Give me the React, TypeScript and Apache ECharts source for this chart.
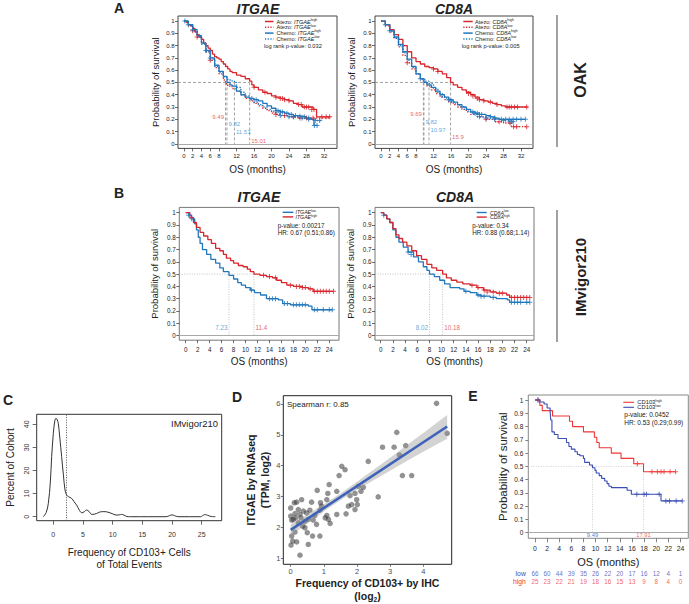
import React, { useEffect, useRef } from "react";
import * as echarts from "echarts";

const FONT = "'Liberation Sans', Arial, Helvetica, sans-serif";

// ---------------- shared ticks ----------------
const kmYTicks = [0, 0.1, 0.2, 0.3, 0.4, 0.5, 0.6, 0.7, 0.8, 0.9, 1];
const oakMonthTicks = [0, 2, 4, 6, 8, 12, 16, 20, 24, 28, 32];
const imMonthTicks = [0, 2, 4, 6, 8, 10, 12, 14, 16, 18, 20, 22, 24];

// ---------------- Panel A: OAK, ITGAE ----------------
const aItgaeAtezoHigh = [[0,1],[0.5,0.99],[1,0.97],[1.5,0.96],[2,0.94],[2.5,0.91],[3,0.89],[3.5,0.87],[4,0.85],[4.5,0.82],[5,0.8],[5.5,0.78],[6,0.76],[6.5,0.73],[7,0.71],[7.5,0.7],[8,0.69],[8.5,0.67],[9,0.65],[9.5,0.63],[10,0.61],[10.5,0.59],[11,0.58],[12,0.56],[13,0.55],[14,0.53],[15,0.51],[15.5,0.48],[16,0.46],[17,0.44],[18,0.42],[19,0.41],[20,0.39],[21,0.38],[22,0.37],[23,0.36],[24,0.35],[25,0.33],[26,0.32],[27,0.3],[28,0.3],[29.5,0.28],[30.3,0.22],[33.5,0.22]];
const aItgaeAtezoLow = [[0,1],[1,0.96],[2,0.92],[3,0.87],[4,0.82],[5,0.75],[6,0.68],[7,0.62],[8,0.57],[9,0.52],[9.49,0.49],[10,0.47],[11,0.45],[12,0.43],[13,0.4],[14,0.37],[15,0.35],[16,0.33],[17,0.31],[18,0.29],[19,0.27],[20,0.25],[21,0.24],[22,0.23],[24,0.22],[26,0.21],[30,0.21],[33.5,0.21]];
const aItgaeChemoHigh = [[0,1],[1,0.97],[2,0.93],[3,0.88],[4,0.82],[5,0.76],[6,0.7],[7,0.64],[8,0.59],[9,0.55],[9.82,0.5],[10.5,0.48],[11,0.47],[12,0.43],[13,0.4],[14,0.38],[15,0.37],[16,0.36],[17,0.35],[18,0.33],[19,0.31],[20,0.29],[21,0.27],[22,0.26],[23,0.25],[24,0.24],[25,0.23],[26,0.225],[27,0.22],[28,0.21],[29,0.2],[29.7,0.15],[30.6,0.15]];
const aItgaeChemoLow = [[0,1],[1,0.97],[2,0.92],[3,0.87],[4,0.81],[5,0.75],[6,0.69],[7,0.63],[8,0.58],[9,0.54],[10,0.52],[11,0.51],[11.53,0.5],[12,0.46],[13,0.42],[14,0.39],[15,0.36],[16,0.34],[17,0.32],[18,0.3],[19,0.28],[20,0.26],[21,0.24],[22,0.23],[24,0.22],[26,0.21],[28,0.2],[30,0.19],[31.5,0.19]];
const aItgaeAtezoHighCens = [[16,0.46],[18.5,0.42],[21,0.38],[22,0.37],[22.5,0.37],[23,0.36],[24,0.35],[26.2,0.32],[26.8,0.32],[27.5,0.3],[28,0.3],[28.5,0.3],[29.2,0.28],[29.7,0.28],[31.5,0.22],[32.5,0.22],[33.3,0.22]];
const aItgaeAtezoLowCens = [[2,0.92],[3,0.87],[6,0.68],[21,0.24],[23,0.23],[25,0.22],[26.5,0.21],[28,0.21],[29.5,0.21]];
const aItgaeChemoHighCens = [[0.2,1],[1,0.97],[2,0.93],[5,0.76],[6,0.7],[15.5,0.37],[16.5,0.36],[21,0.27],[21.5,0.27],[22,0.26],[22.5,0.26],[23.5,0.25],[24.5,0.24],[25.5,0.23],[26.5,0.225],[27.5,0.22],[28.5,0.21],[29.8,0.15],[30.4,0.15]];
const aItgaeChemoLowCens = [[22,0.23],[24,0.22],[25,0.22],[27,0.21],[28.5,0.2],[30,0.19],[31,0.19]];
const aItgaeMedians = [9.49, 9.82, 11.53, 15.01];
const aItgaeMedianLabelY = [0.216, 0.159, 0.094, 0.02];

// ---------------- Panel A: OAK, CD8A ----------------
const aCd8aAtezoHigh = [[0,1],[1,0.97],[2,0.93],[3,0.89],[4,0.85],[5,0.8],[6,0.75],[7,0.7],[8,0.67],[9,0.65],[10,0.63],[11,0.62],[12,0.61],[13,0.59],[14,0.57],[15,0.54],[15.9,0.5],[16.5,0.48],[17.5,0.46],[18.5,0.44],[19.5,0.42],[20.5,0.4],[21.5,0.38],[22.5,0.36],[23.5,0.35],[24.5,0.34],[25.5,0.33],[26.5,0.32],[27.5,0.31],[28.5,0.3],[33.5,0.3]];
const aCd8aAtezoLow = [[0,1],[1,0.96],[2,0.91],[3,0.86],[4,0.79],[5,0.72],[6,0.66],[7,0.61],[8,0.57],[9,0.53],[9.69,0.5],[10.5,0.47],[11.5,0.44],[12.5,0.41],[13.5,0.38],[14.5,0.36],[15.5,0.34],[16.5,0.32],[17.5,0.3],[18.5,0.28],[19.5,0.26],[20.5,0.24],[22,0.22],[24,0.2],[26,0.18],[28,0.17],[29.8,0.14],[33.5,0.14]];
const aCd8aChemoHigh = [[0,1],[1,0.97],[2,0.92],[3,0.87],[4,0.81],[5,0.75],[6,0.69],[7,0.63],[8,0.57],[9,0.53],[9.82,0.5],[10.5,0.48],[11.5,0.46],[12.5,0.43],[13.5,0.4],[14.5,0.38],[15.5,0.36],[16.5,0.34],[17.5,0.32],[18.5,0.3],[19.5,0.28],[20.5,0.26],[21.5,0.25],[22.5,0.24],[24,0.23],[25,0.22],[26,0.21],[27,0.2],[33,0.2]];
const aCd8aChemoLow = [[0,1],[1,0.97],[2,0.92],[3,0.86],[4,0.8],[5,0.74],[6,0.68],[7,0.62],[8,0.57],[9,0.53],[10,0.51],[10.97,0.49],[12,0.45],[13,0.41],[14,0.38],[15,0.36],[16,0.34],[17,0.32],[18,0.3],[19,0.28],[20,0.26],[21,0.24],[22,0.22],[24,0.21],[26,0.2],[28,0.19],[30,0.18],[30.5,0.18]];
const aCd8aAtezoHighCens = [[12,0.61],[13,0.59],[20,0.41],[21,0.39],[22,0.37],[22.5,0.36],[23.5,0.35],[25,0.34],[26.5,0.32],[28.8,0.3],[29.3,0.3],[29.8,0.3],[30.5,0.3],[31.2,0.3],[33.3,0.3]];
const aCd8aAtezoLowCens = [[6,0.66],[24,0.2],[27,0.18],[29.5,0.17],[30.3,0.14],[31,0.14],[33.3,0.14]];
const aCd8aChemoHighCens = [[9,0.53],[15.5,0.36],[16,0.35],[21,0.26],[21.5,0.25],[22,0.25],[22.5,0.24],[23,0.24],[25,0.22],[26,0.21],[27.5,0.2],[28.5,0.2],[29.3,0.2],[30.2,0.2],[31,0.2],[32,0.2],[33,0.2]];
const aCd8aChemoLowCens = [[1,0.97],[2,0.92],[22.5,0.22],[24,0.21],[26,0.2],[28,0.19],[29.5,0.18],[30.2,0.18]];
const aCd8aMedians = [9.69, 9.82, 10.97, 15.9];
const aCd8aMedianLabelY = [0.24, 0.175, 0.116, 0.055];

// ---------------- Panel B: IMvigor210 ----------------
const bItgaeLow = [[0,1],[0.5,0.98],[1,0.95],[1.5,0.91],[1.8,0.86],[2.1,0.8],[2.4,0.75],[2.8,0.7],[3.5,0.66],[4.2,0.62],[5,0.59],[5.7,0.55],[6.3,0.52],[7.23,0.49],[8,0.46],[8.7,0.43],[9.3,0.41],[10,0.39],[10.8,0.37],[11.5,0.35],[12.5,0.33],[13.5,0.3],[15.5,0.29],[16.2,0.26],[17.5,0.25],[20.5,0.24],[21.1,0.21],[24.5,0.21]];
const bItgaeHigh = [[0,1],[0.7,0.96],[1.3,0.92],[1.8,0.88],[2.4,0.84],[3,0.81],[3.7,0.78],[4.3,0.75],[5,0.71],[5.7,0.69],[6.3,0.66],[6.8,0.63],[7.5,0.61],[8,0.59],[8.8,0.57],[9.6,0.56],[10.3,0.54],[10.8,0.52],[11.4,0.5],[12.4,0.49],[13.5,0.48],[14.5,0.47],[15.2,0.45],[16,0.43],[16.9,0.41],[18,0.4],[19.5,0.39],[20.5,0.38],[21.3,0.36],[24.7,0.36]];
const bItgaeLowCens = [[0.5,0.98],[1,0.95],[11,0.37],[14,0.3],[14.5,0.3],[15,0.3],[16.5,0.26],[17,0.26],[18,0.25],[18.5,0.25],[19,0.25],[19.5,0.25],[20,0.25],[21.5,0.21],[22,0.21],[23,0.21],[24,0.21],[24.5,0.21]];
const bItgaeHighCens = [[13,0.49],[14,0.48],[15,0.47],[17.5,0.41],[18.5,0.4],[19,0.4],[19.5,0.39],[20,0.39],[20.8,0.38],[21.5,0.36],[22,0.36],[22.5,0.36],[23,0.36],[23.5,0.36],[24,0.36],[24.7,0.36]];
const bItgaeMedians = [7.23, 11.4];
const bCd8aLow = [[0,1],[0.5,0.98],[1,0.95],[1.5,0.92],[2,0.86],[2.5,0.8],[3,0.76],[3.7,0.72],[4.5,0.68],[5.4,0.64],[6.2,0.6],[7,0.56],[7.6,0.53],[8.02,0.5],[8.8,0.48],[9.7,0.45],[10.5,0.42],[11.4,0.39],[13,0.38],[13.7,0.36],[14.7,0.35],[15.8,0.33],[16.5,0.32],[18,0.31],[19,0.3],[20.8,0.29],[21.2,0.27],[24.5,0.27]];
const bCd8aHigh = [[0,1],[0.5,0.98],[1,0.95],[1.5,0.92],[2,0.87],[2.5,0.82],[3,0.79],[3.6,0.76],[4.3,0.73],[5.1,0.69],[5.9,0.65],[6.7,0.62],[7.6,0.58],[8.4,0.55],[9.2,0.53],[10.18,0.5],[10.8,0.47],[11.6,0.45],[12.5,0.435],[13.5,0.42],[14.7,0.41],[15.8,0.39],[16.9,0.37],[18,0.355],[19,0.345],[20.7,0.33],[21.2,0.31],[24.5,0.31]];
const bCd8aLowCens = [[0.5,0.98],[4.5,0.68],[5,0.66],[14,0.36],[16,0.33],[16.5,0.32],[17,0.32],[18.5,0.31],[21.5,0.27],[22,0.27],[22.5,0.27],[23,0.27],[24,0.27],[24.5,0.27]];
const bCd8aHighCens = [[15,0.41],[16,0.39],[17,0.37],[17.5,0.355],[18.5,0.355],[19.5,0.345],[20,0.345],[21.5,0.31],[22,0.31],[22.5,0.31],[23,0.31],[23.5,0.31],[24,0.31],[24.5,0.31]];
const bCd8aMedians = [8.02, 10.18];

// ---------------- Panel C: density ----------------
const cFreqTicks = [0, 5, 10, 15, 20, 25];
const cPctTicks = [0, 10, 20, 30, 40];
const cDensity = [[-1.7,0],[-1.2,1.8],[-0.84,5.8],[-0.5,15],[-0.28,26],[0,36],[0.25,41.5],[0.45,42.6],[0.65,42],[0.84,40.4],[1.1,34],[1.4,26],[1.7,18],[1.97,11.6],[2.25,9.3],[2.53,8.7],[3.1,7.9],[3.5,6.5],[3.93,5],[4.4,2.8],[4.78,1.7],[5.2,2.1],[5.6,2.9],[6,2.3],[6.46,1],[6.9,1.1],[7.3,1.4],[7.8,2],[8.4,2.2],[9,2.1],[9.55,1.7],[10.1,1.1],[10.7,0.7],[11.1,0.8],[11.5,1],[11.9,0.7],[12.4,0.1],[13,0],[19,0],[19.6,0.5],[20,0.8],[20.4,0.5],[21,0],[24.8,0],[25.3,0.7],[25.6,0.9],[26,0.6],[26.6,0.1],[27.3,0]];
const cCutoff = 2.1;

// ---------------- Panel D: scatter ----------------
const dIhcTicks = [0, 1, 2, 3, 4];
const dRnaTicks = [1, 2, 3, 4, 5, 6];
const dIhc = [4.40,4.72,3.20,2.77,3.12,3.28,3.47,2.34,1.54,1.64,1.46,3.37,3.65,1.16,0.80,1.39,1.12,1.94,2.19,2.04,2.12,1.79,2.64,1.09,0.33,0.90,0.11,0.63,1.99,1.74,2.01,1.84,1.94,1.67,0.00,0.23,0.38,0.58,0.48,0.93,0.73,1.09,1.04,1.14,1.19,1.39,0.13,0.00,0.03,0.08,0.15,0.28,0.53,0.68,0.78,0.36,0.43,0.13,0.50,0.66,0.88,0.23,0.31,0.43,0.03,0.06,0.01,0.18,0.53,0.28,0.88,0.18];
const dRna = [6.02,5.05,5.08,4.60,4.60,4.35,4.65,4.14,3.98,3.87,3.68,3.68,3.68,3.39,3.20,3.17,3.10,3.10,3.30,3.33,3.17,3.03,2.99,2.90,2.90,2.80,2.80,2.82,2.90,2.69,2.74,2.74,2.58,2.44,2.63,2.58,2.53,2.56,2.47,2.69,2.39,2.39,2.31,2.26,2.13,2.42,2.45,2.37,2.24,2.26,2.31,2.42,2.26,2.24,2.10,2.04,1.99,1.85,1.83,1.72,1.72,2.15,2.31,2.20,1.72,1.56,1.43,1.53,1.45,1.10,2.56,2.82];
const dFit = [[0, 1.92], [4.72, 5.27]];
const dCiX = [0, 0.5, 1, 1.5, 2, 2.5, 3, 3.5, 4, 4.72];
const dCiLow = [1.74, 2.13, 2.52, 2.88, 3.22, 3.53, 3.84, 4.15, 4.45, 4.87];
const dCiHigh = [2.1, 2.42, 2.75, 3.1, 3.48, 3.87, 4.26, 4.66, 5.06, 5.64];

// ---------------- Panel E: CD103 IHC ----------------
const eHigh = [[0,1],[0.8,0.96],[1.2,0.92],[2.9,0.88],[5.7,0.84],[6.2,0.8],[8,0.76],[9.8,0.72],[10.2,0.68],[10.6,0.64],[12.6,0.6],[14.2,0.56],[16.3,0.52],[17.91,0.46],[23.2,0.46]];
const eLow = [[0,1],[0.8,0.985],[1.5,0.97],[2,0.94],[2.5,0.92],[2.6,0.85],[2.8,0.76],[3.2,0.74],[3.8,0.71],[5.2,0.68],[5.6,0.65],[6,0.63],[6.6,0.61],[7,0.59],[7.4,0.58],[8,0.56],[8.2,0.53],[9,0.51],[9.49,0.49],[9.9,0.47],[10.1,0.45],[10.6,0.43],[11,0.41],[11.5,0.39],[11.9,0.37],[12.2,0.35],[12.6,0.34],[15.2,0.32],[15.9,0.29],[20.8,0.24],[24.3,0.24]];
const eHighCens = [[0.5,1],[16.9,0.52],[19.3,0.46],[20.2,0.46],[20.8,0.46],[21.3,0.46],[22.3,0.46],[23.2,0.46]];
const eLowCens = [[0.5,1],[16.8,0.29],[18,0.29],[18.4,0.29],[20.5,0.29],[21.6,0.24],[22.2,0.24],[23.3,0.24],[24.3,0.24]];
const eMedians = [9.49, 17.91];
const eRiskMonths = [0, 2, 4, 6, 8, 10, 12, 14, 16, 18, 20, 22, 24];
const eRiskLow = [66, 60, 44, 39, 35, 26, 22, 20, 17, 16, 12, 4, 1];
const eRiskHigh = [25, 23, 22, 21, 19, 18, 16, 15, 13, 9, 8, 4, 0];
const eRiskGroups = ["high", "low"];

// ---------------- colours ----------------
const RED = "#d8262c";
const BLUE = "#2177bd";
const RED_L = "#e2383d";
const BLUE_L = "#3b8fd2";
const E_RED = "#f23535";
const E_BLUE = "#3a4db3";
const TXT = "#222";
const PLUS = "path://M4,0H6V4H10V6H6V10H4V6H0V4H4Z";

type Curve = { data: number[][]; color: string; dotted?: boolean; censor?: number[][] };

function kmSeries(
  g: number,
  curves: Curve[],
  medians: number[],
  medColors: string[],
  medLabelY: number[],
  medPos: string[],
  xmin: number,
  medLine: { color: string; type: any },
  labelSize: number,
  lineWidth: number
) {
  const s: any[] = [];
  s.push({
    type: "line", xAxisIndex: g, yAxisIndex: g, data: [], silent: true,
    markLine: { silent: true, symbol: ["none", "none"], label: { show: false },
      lineStyle: { color: "#aaaaaa", width: 1, type: "solid" }, data: [{ yAxis: 0 }] },
  });
  const mMax = Math.max(...medians);
  s.push({
    type: "line", xAxisIndex: g, yAxisIndex: g, silent: true, symbol: "none", z: 1,
    data: [[xmin, 0.5], [mMax, 0.5]], lineStyle: { color: medLine.color, width: 0.9, type: medLine.type },
  });
  medians.forEach((m) => {
    s.push({
      type: "line", xAxisIndex: g, yAxisIndex: g, silent: true, symbol: "none", z: 1,
      data: [[m, 0.5], [m, 0]], lineStyle: { color: medLine.color, width: 0.9, type: medLine.type },
    });
  });
  curves.forEach((c) => {
    s.push({
      type: "line", xAxisIndex: g, yAxisIndex: g, step: "end", symbol: "none", silent: true, z: 3,
      data: c.data, lineStyle: { color: c.color, width: lineWidth, type: c.dotted ? [1.3, 1.6] : "solid" },
    });
    if (c.censor) {
      s.push({
        type: "scatter", xAxisIndex: g, yAxisIndex: g, silent: true, z: 4, symbol: PLUS, symbolSize: 5,
        data: c.censor, itemStyle: { color: c.color },
      });
    }
  });
  s.push({
    type: "scatter", xAxisIndex: g, yAxisIndex: g, silent: true, symbolSize: 0, z: 5,
    data: medians.map((m, i) => ({
      name: String(m), value: [m, medLabelY[i]],
      label: { show: true, formatter: "{b}", position: medPos[i], distance: 1.5, color: medColors[i],
        fontSize: labelSize, fontFamily: FONT },
    })),
  });
  return s;
}

function xAx(g: number, min: number, max: number, ticks: number[], o: any) {
  return {
    type: "value", gridIndex: g, min, max,
    axisLine: { show: false, onZero: false },
    axisTick: { show: true, customValues: ticks, length: o.tl ?? 3, inside: false, lineStyle: { color: o.tc ?? "#444", width: 0.8 } },
    axisLabel: { customValues: ticks, fontSize: o.fs, color: o.lc ?? TXT, margin: o.margin, fontFamily: FONT },
    splitLine: { show: false },
    name: o.name, nameLocation: "middle", nameGap: o.gap,
    nameTextStyle: { fontSize: o.nfs, color: TXT, fontFamily: FONT, fontWeight: o.bold ? "bold" : "normal", lineHeight: o.lh, rich: o.rich },
  };
}
function yAx(g: number, min: number, max: number, ticks: number[], o: any) {
  return {
    type: "value", gridIndex: g, min, max,
    axisLine: { show: false, onZero: false },
    axisTick: { show: true, customValues: ticks, length: o.tl ?? 3, lineStyle: { color: o.tc ?? "#444", width: 0.8 } },
    axisLabel: { customValues: ticks, fontSize: o.fs, color: o.lc ?? TXT, margin: o.margin, fontFamily: FONT, rotate: o.rot ?? 0 },
    splitLine: { show: false },
    name: o.name, nameLocation: "middle", nameGap: o.gap,
    nameTextStyle: { fontSize: o.nfs, color: TXT, fontFamily: FONT, fontWeight: o.bold ? "bold" : "normal", lineHeight: o.lh },
  };
}

function txt(x: number, y: number, text: string, fs: number, extra: any = {}) {
  return {
    type: "text", x, y, silent: true, rotation: extra.rotation ?? 0,
    style: {
      text, fill: extra.fill ?? TXT, fontSize: fs, fontFamily: FONT,
      fontWeight: extra.bold ? "bold" : "normal", fontStyle: extra.italic ? "italic" : "normal",
      align: extra.align ?? "left", verticalAlign: "middle", rich: extra.rich,
    },
  };
}
function seg(x1: number, x2: number, y: number, color: string, dotted = false, w = 1.4) {
  return {
    type: "line", silent: true, shape: { x1, y1: y, x2, y2: y },
    style: { stroke: color, lineWidth: w, lineDash: dotted ? [1.2, 1.5] : null },
  };
}
const supRich = (fs: number) => ({
  n: { fontSize: fs, fontFamily: FONT, fill: TXT, lineHeight: fs + 1 },
  i: { fontSize: fs, fontFamily: FONT, fontStyle: "italic", fill: TXT, lineHeight: fs + 1 },
  s: { fontSize: fs * 0.62, fontFamily: FONT, fill: TXT, verticalAlign: "top", lineHeight: fs * 0.62 },
});

function oakLegend(lx1: number, lx2: number, tx: number, gene: string, pText: string, px: number) {
  const rows = [
    { lab: "Atezo: ", sup: "high", c: RED, d: false, y: 21.5 },
    { lab: "Atezo: ", sup: "low", c: RED, d: true, y: 27.3 },
    { lab: "Chemo: ", sup: "high", c: BLUE, d: false, y: 33.1 },
    { lab: "Chemo: ", sup: "low", c: BLUE, d: true, y: 38.9 },
  ];
  const els: any[] = [];
  rows.forEach((r) => {
    els.push(seg(lx1, lx2, r.y, r.c, r.d, 1.5));
    els.push(txt(tx, r.y, `{n|${r.lab}}{i|${gene}}{s|${r.sup}}`, 5.6, { rich: supRich(5.6) }));
  });
  els.push(txt(px, 46.2, pText, 5.7));
  return els;
}
function imLegend(lx1: number, lx2: number, tx: number, gene: string, px: number, pText: string, hrText: string, y0: number) {
  return [
    seg(lx1, lx2, y0, BLUE, false, 1.4),
    txt(tx, y0, `{i|${gene}}{s|low}`, 5.2, { rich: supRich(5.2) }),
    seg(lx1, lx2, y0 + 4.6, RED, false, 1.4),
    txt(tx, y0 + 4.6, `{i|${gene}}{s|high}`, 5.2, { rich: supRich(5.2) }),
    txt(px, y0 + 12.7, pText, 6.3),
    txt(px, y0 + 20.4, hrText, 6.3),
  ];
}

export default function App() {
  const ref = useRef<HTMLDivElement>(null);
  useEffect(() => {
    if (!ref.current) return;
    const chart = echarts.init(ref.current, undefined, { renderer: "svg" });

    const grids = [
      { left: 178, top: 16, width: 159, height: 132.4, show: true, borderColor: "#444", borderWidth: 1 },
      { left: 375, top: 16, width: 158, height: 132.4, show: true, borderColor: "#444", borderWidth: 1 },
      { left: 179.3, top: 207.4, width: 159.7, height: 132.8, show: true, borderColor: "#777", borderWidth: 1 },
      { left: 375, top: 207.4, width: 159, height: 132.8, show: true, borderColor: "#777", borderWidth: 1 },
      { left: 36.7, top: 414.3, width: 185, height: 106.4, show: true, borderColor: "#333", borderWidth: 1 },
      { left: 283.3, top: 395.7, width: 168.4, height: 169.3, show: true, borderColor: "#222", borderWidth: 1 },
      { left: 528.3, top: 395, width: 160, height: 143.3, show: true, borderColor: "#888", borderWidth: 1 },
      { left: 528.3, top: 569, width: 160, height: 17, show: false },
    ];

    const aLim = { ymin: -0.037, ymax: 1.041 };
    const bLim = { ymin: -0.038, ymax: 1.043 };
    const kmY = (g: number, lim: any, gap: number, margin: number, fs: number) =>
      yAx(g, lim.ymin, lim.ymax, kmYTicks, { fs, margin, name: "Probability of survival", gap, nfs: 9.5 });

    const xAxis: any[] = [
      xAx(0, -1.37, 34.97, oakMonthTicks, { fs: 6, margin: 4.5, name: "OS (months)", gap: 16.5, nfs: 10 }),
      xAx(1, -1.37, 34.74, oakMonthTicks, { fs: 6, margin: 4.5, name: "OS (months)", gap: 16.5, nfs: 10 }),
      xAx(2, -1.07, 25.62, imMonthTicks, { fs: 6.3, margin: 6, name: "OS (months)", gap: 16, nfs: 10 }),
      xAx(3, -0.94, 25.2, imMonthTicks, { fs: 6.3, margin: 6, name: "OS (months)", gap: 16, nfs: 10 }),
      xAx(4, -2.8, 28.37, cFreqTicks, { fs: 7, margin: 10, tl: 4, lc: "#333", name: "Frequency of CD103+ Cells\nof Total Events", gap: 26, nfs: 10, lh: 12 }),
      xAx(5, -0.223, 4.857, dIhcTicks, { fs: 7.5, margin: 3, tl: 2.5, tc: "#555", lc: "#4d4d4d",
        name: "Frequency of CD103+ by IHC\n(log{sub|2})", gap: 11, nfs: 10.5, lh: 13.4, bold: true,
        rich: { sub: { fontSize: 6.5, fontWeight: "bold", fontFamily: FONT, verticalAlign: "bottom", padding: [4, 0, 0, 0], lineHeight: 13.4 } } }),
      xAx(6, -1.1, 25.3, imMonthTicks, { fs: 6.8, margin: 6.5, tl: 4, tc: "#666", name: "OS (months)", gap: 18, nfs: 11 }),
      { type: "value", gridIndex: 7, min: -1.1, max: 25.3, show: false },
    ];
    const yAxis: any[] = [
      kmY(0, aLim, 18, 3.5, 6),
      kmY(1, aLim, 19, 3.5, 6),
      kmY(2, bLim, 20, 3.5, 6.3),
      kmY(3, bLim, 19.5, 3.5, 6.3),
      yAx(4, -1.73, 44.33, cPctTicks, { fs: 7, margin: 7, tl: 4, lc: "#333", rot: 90, name: "Percent of Cohort", gap: 21, nfs: 10 }),
      yAx(5, 0.806, 6.268, dRnaTicks, { fs: 7.5, margin: 3, tl: 2.5, tc: "#555", lc: "#4d4d4d",
        name: "ITGAE by RNAseq\n(TPM, log2)", gap: 11.5, nfs: 10.5, lh: 14, bold: true }),
      yAx(6, -0.042, 1.038, kmYTicks, { fs: 6.5, margin: 5, tl: 3, tc: "#666", name: "Probability of survival", gap: 19.5, nfs: 11.5 }),
      {
        type: "category", gridIndex: 7, data: eRiskGroups, axisLine: { show: false }, axisTick: { show: false },
        axisLabel: { interval: 0, hideOverlap: false, fontSize: 6.8, margin: 2.5, fontFamily: FONT,
          color: (v: string) => (v === "low" ? E_BLUE : E_RED) },
      },
    ];

    const series: any[] = [];
    series.push(...kmSeries(0, [
      { data: aItgaeAtezoHigh, color: RED, censor: aItgaeAtezoHighCens },
      { data: aItgaeAtezoLow, color: RED, dotted: true, censor: aItgaeAtezoLowCens },
      { data: aItgaeChemoHigh, color: BLUE, censor: aItgaeChemoHighCens },
      { data: aItgaeChemoLow, color: BLUE, dotted: true, censor: aItgaeChemoLowCens },
    ], aItgaeMedians, [RED_L, BLUE_L, BLUE_L, RED_L], aItgaeMedianLabelY, ["left", "right", "right", "right"],
      -1.37, { color: "#999", type: [3, 2] }, 6, 1.3));
    series.push(...kmSeries(1, [
      { data: aCd8aAtezoHigh, color: RED, censor: aCd8aAtezoHighCens },
      { data: aCd8aAtezoLow, color: RED, dotted: true, censor: aCd8aAtezoLowCens },
      { data: aCd8aChemoHigh, color: BLUE, censor: aCd8aChemoHighCens },
      { data: aCd8aChemoLow, color: BLUE, dotted: true, censor: aCd8aChemoLowCens },
    ], aCd8aMedians, [RED_L, BLUE_L, BLUE_L, RED_L], aCd8aMedianLabelY, ["left", "right", "right", "right"],
      -1.37, { color: "#999", type: [3, 2] }, 6, 1.3));
    series.push(...kmSeries(2, [
      { data: bItgaeLow, color: BLUE, censor: bItgaeLowCens },
      { data: bItgaeHigh, color: RED, censor: bItgaeHighCens },
    ], bItgaeMedians, [BLUE_L, RED_L], [0.062, 0.062], ["left", "right"],
      -1.07, { color: "#bbb", type: [1, 1.5] }, 6.3, 1.3));
    series.push(...kmSeries(3, [
      { data: bCd8aLow, color: BLUE, censor: bCd8aLowCens },
      { data: bCd8aHigh, color: RED, censor: bCd8aHighCens },
    ], bCd8aMedians, [BLUE_L, RED_L], [0.062, 0.062], ["left", "right"],
      -0.94, { color: "#bbb", type: [1, 1.5] }, 6.3, 1.3));

    // C density
    series.push({
      type: "line", xAxisIndex: 4, yAxisIndex: 4, data: cDensity, smooth: 0.35, symbol: "none", silent: true,
      lineStyle: { color: "#333", width: 1 },
      markLine: { silent: true, symbol: ["none", "none"], label: { show: false },
        lineStyle: { color: "#555", width: 1, type: [1, 1.5] }, data: [{ xAxis: cCutoff }] },
    });

    // D scatter + fit
    series.push({
      type: "scatter", xAxisIndex: 5, yAxisIndex: 5, silent: true, symbolSize: 5.5, z: 2,
      data: dIhc.map((x, i) => [x, dRna[i]]), itemStyle: { color: "rgba(55,55,55,0.68)" },
    });
    series.push({
      type: "custom", xAxisIndex: 5, yAxisIndex: 5, silent: true, z: 3, data: [[dCiX[0], dCiLow[0]]],
      renderItem: (_p: any, api: any) => {
        const pts: number[][] = [];
        for (let i = 0; i < dCiX.length; i++) pts.push(api.coord([dCiX[i], dCiHigh[i]]));
        for (let i = dCiX.length - 1; i >= 0; i--) pts.push(api.coord([dCiX[i], dCiLow[i]]));
        return { type: "polygon", shape: { points: pts }, style: { fill: "rgba(150,150,150,0.42)" } };
      },
    });
    series.push({
      type: "line", xAxisIndex: 5, yAxisIndex: 5, silent: true, symbol: "none", z: 4, data: dFit,
      lineStyle: { color: "#3d62b8", width: 2.6 },
    });

    // E KM
    series.push(...kmSeries(6, [
      { data: eHigh, color: E_RED, censor: eHighCens },
      { data: eLow, color: E_BLUE, censor: eLowCens },
    ], eMedians, [E_BLUE, E_RED], [-0.018, -0.018], ["inside", "inside"],
      -1.1, { color: "#c8c8c8", type: [1, 1.5] }, 5.8, 1.1));

    // risk table
    series.push({
      type: "scatter", xAxisIndex: 7, yAxisIndex: 7, symbolSize: 0, silent: true,
      data: eRiskMonths.map((m, i) => ({ value: [m, "low"], name: String(eRiskLow[i]) })),
      label: { show: true, position: "inside", formatter: "{b}", fontSize: 6.3, color: E_BLUE, fontFamily: FONT },
    });
    series.push({
      type: "scatter", xAxisIndex: 7, yAxisIndex: 7, symbolSize: 0, silent: true,
      data: eRiskMonths.map((m, i) => ({ value: [m, "high"], name: String(eRiskHigh[i]) })),
      label: { show: true, position: "inside", formatter: "{b}", fontSize: 6.3, color: E_RED, fontFamily: FONT },
    });

    const graphic: any[] = [
      txt(119, 8, "A", 14, { bold: true, align: "center" }),
      txt(119, 193, "B", 14, { bold: true, align: "center" }),
      txt(8, 400, "C", 14, { bold: true, align: "center" }),
      txt(237, 397, "D", 14, { bold: true, align: "center" }),
      txt(473, 396, "E", 14, { bold: true, align: "center" }),
      txt(258, 8.5, "ITGAE", 14, { bold: true, italic: true, align: "center" }),
      txt(454, 8.5, "CD8A", 14, { bold: true, italic: true, align: "center" }),
      txt(259, 197, "ITGAE", 14, { bold: true, italic: true, align: "center" }),
      txt(455, 197, "CD8A", 14, { bold: true, italic: true, align: "center" }),
      { type: "line", silent: true, shape: { x1: 557, y1: 15, x2: 557, y2: 147 }, style: { stroke: "#444", lineWidth: 1 } },
      txt(580, 80, "OAK", 16, { bold: true, align: "center", rotation: Math.PI / 2 }),
      { type: "line", silent: true, shape: { x1: 557, y1: 210, x2: 557, y2: 342 }, style: { stroke: "#444", lineWidth: 1 } },
      txt(580, 277, "IMvigor210", 15, { bold: true, align: "center", rotation: Math.PI / 2 }),
      ...oakLegend(265, 273.5, 276.5, "ITGAE", "log rank p-value: 0.032", 264),
      ...oakLegend(463.3, 472.7, 475, "CD8A", "log rank p-value: 0.005", 461.7),
      ...imLegend(282.7, 293.3, 295.5, "ITGAE", 277.7, "p-value: 0.00217", "HR: 0.67 (0.51;0.86)", 212.3),
      ...imLegend(476.7, 486.7, 490, "CD8A", 472.3, "p-value: 0.34", "HR: 0.88 (0.68;1.14)", 212.5),
      txt(218, 423, "IMvigor210", 9.5, { align: "right" }),
      txt(287, 404, "Spearman r: 0.85", 8),
      seg(623.3, 634, 402.3, E_RED, false, 1.1),
      txt(637.3, 402.3, "{n|CD103}{s|high}", 5.8, { rich: supRich(5.8) }),
      seg(623.3, 634, 407.3, E_BLUE, false, 1.1),
      txt(637.3, 407.3, "{n|CD103}{s|low}", 5.8, { rich: supRich(5.8) }),
      txt(624.3, 414.3, "p-value: 0.0452", 6.5),
      txt(624.3, 422.7, "HR: 0.53 (0.29;0.99)", 6.5),
    ];

    chart.setOption({
      animation: false,
      textStyle: { fontFamily: FONT },
      grid: grids,
      xAxis,
      yAxis,
      series,
      graphic,
    });
    return () => chart.dispose();
  }, []);

  return <div ref={ref} style={{ position: "absolute", left: 0, top: 0, width: 689, height: 604, background: "#fff" }} />;
}
